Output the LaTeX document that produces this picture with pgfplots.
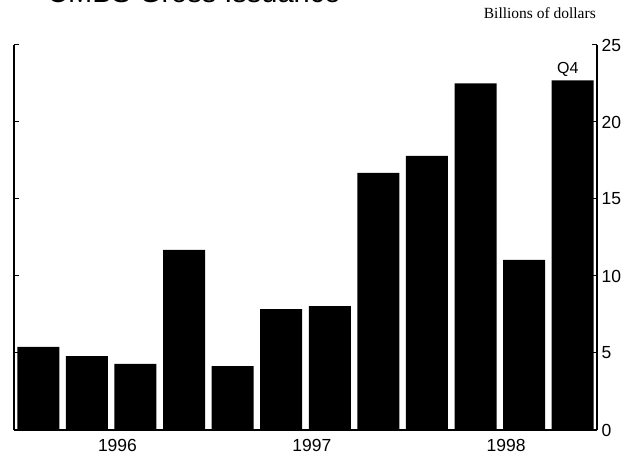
\documentclass[border=0pt]{standalone}
\usepackage{pgfplots}
\pgfplotsset{compat=1.18}
\usepackage{fontspec}
\setmainfont{Liberation Sans}
\newfontfamily\seriffont{Liberation Serif}
\begin{document}
\begin{tikzpicture}[x=1pt,y=1pt]
\useasboundingbox (0,0) rectangle (638,460);
\node[anchor=base west, inner sep=0pt, font=\fontsize{29}{34}\selectfont] at (47,457) {CMBS Gross Issuance};
\node[anchor=base east, inner sep=0pt, font=\seriffont\fontsize{15.5}{18}\selectfont] at (596,441) {Billions of dollars};
\begin{axis}[
  at={(14pt,30pt)}, anchor=south west,
  scale only axis, width=583pt, height=385pt,
  xmin=-0.5, xmax=11.5, ymin=0, ymax=25,
  axis x line*=bottom, axis y line*=box,
  axis line style={line width=1.5pt},
  xtick={1.63,5.63,9.63}, xticklabels={1996,1997,1998},
  x tick style={draw=none},
  ytick={0,5,10,15,20,25},
  yticklabel pos=right,
  ytick pos=both,
  tick align=inside,
  major tick length=5pt,
  y tick style={line width=1pt, black},
  tick label style={font=\fontsize{17.5}{20}\selectfont},
  /pgf/number format/assume math mode=true,
  xticklabel style={yshift=-1pt},
  yticklabel style={xshift=1pt},
  ybar, bar width=42pt,
  clip=false,
]
\addplot[fill=black, draw=none] coordinates {
 (0,5.4) (1,4.8) (2,4.3) (3,11.7)
 (4,4.15) (5,7.85) (6,8.05) (7,16.7)
 (8,17.8) (9,22.5) (10,11.05) (11,22.7)
};
\node[font=\fontsize{16}{19}\selectfont] at (axis cs:10.9,23.4) {Q4};
\end{axis}
\end{tikzpicture}
\end{document}
